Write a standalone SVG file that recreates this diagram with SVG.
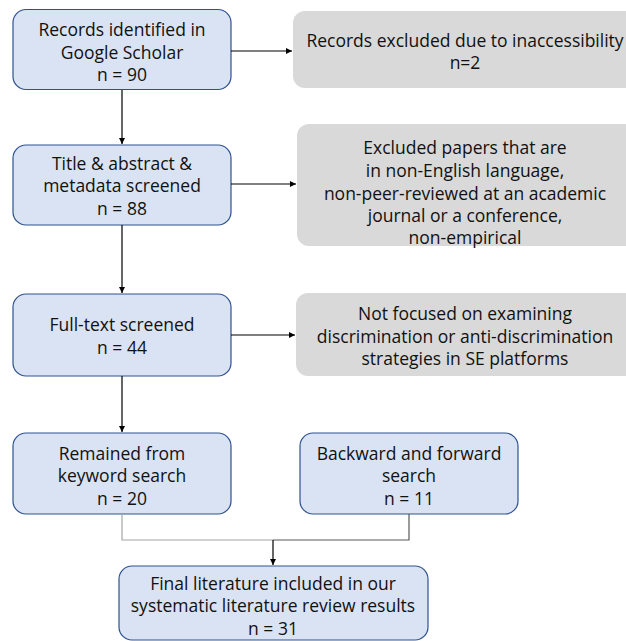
<svg xmlns="http://www.w3.org/2000/svg" width="626" height="641" viewBox="0 0 626 641">
<defs>
<style>
.b{fill:#dae3f3;stroke:#2f528f;stroke-width:1.2}
.g{fill:#d9d9d9;stroke:none}
text{font-family:"Open Sans","Noto Sans","DejaVu Sans",sans-serif;font-size:17.5px;fill:#111;text-anchor:middle;dominant-baseline:central}
.c{fill:none;stroke:#000;stroke-width:1.2}
</style>
<marker id="ah" viewBox="0 0 10 10" refX="10" refY="5" markerWidth="5" markerHeight="5" orient="auto">
<path d="M0,0 L10,5 L0,10 z" fill="#000"/>
</marker>
</defs>
<rect width="626" height="641" fill="#fff"/>
<g id="n1"><rect class="b" x="13" y="9.5" width="218" height="80" rx="13"/>
<text x="122" y="29">Records identified in</text><text x="122" y="52">Google Scholar</text><text x="122" y="74">n = 90</text></g>
<g id="n2"><rect class="g" x="293" y="11" width="345" height="77" rx="12"/>
<text x="465" y="40">Records excluded due to inaccessibility</text><text x="465" y="62">n=2</text></g>
<g id="n3"><rect class="b" x="13" y="145" width="218" height="80" rx="13"/>
<text x="122" y="163">Title &amp; abstract &amp;</text><text x="122" y="185">metadata screened</text><text x="122" y="208">n = 88</text></g>
<g id="n4"><rect class="g" x="297" y="124" width="341" height="122" rx="12"/>
<text x="465" y="147">Excluded papers that are</text><text x="465" y="170">in non-English language,</text><text x="465" y="193">non-peer-reviewed at an academic</text><text x="465" y="215">journal or a conference,</text><text x="465" y="237">non-empirical</text></g>
<g id="n5"><rect class="b" x="13" y="294" width="218" height="82" rx="13"/>
<text x="122" y="324">Full-text screened</text><text x="122" y="347">n = 44</text></g>
<g id="n6"><rect class="g" x="296" y="293" width="342" height="83" rx="12"/>
<text x="465" y="313">Not focused on examining</text><text x="465" y="335.5">discrimination or anti-discrimination</text><text x="465" y="358">strategies in SE platforms</text></g>
<g id="n7"><rect class="b" x="13" y="433" width="218" height="81" rx="13"/>
<text x="122" y="453">Remained from</text><text x="122" y="475">keyword search</text><text x="122" y="498">n = 20</text></g>
<g id="n8"><rect class="b" x="300" y="433" width="218" height="81" rx="13"/>
<text x="409" y="453">Backward and forward</text><text x="409" y="475">search</text><text x="409" y="498">n = 11</text></g>
<g id="n9"><rect class="b" x="119" y="566" width="309" height="74" rx="13"/>
<text x="273" y="583">Final literature included in our</text><text x="273" y="605">systematic literature review results</text><text x="273" y="628">n = 31</text></g>
<g id="connectors">
<line class="c" x1="231" y1="51" x2="292" y2="51" marker-end="url(#ah)"/>
<line class="c" x1="231" y1="184" x2="296" y2="184" marker-end="url(#ah)"/>
<line class="c" x1="231" y1="335" x2="295" y2="335" marker-end="url(#ah)"/>
<line class="c" x1="122" y1="90" x2="122" y2="144" marker-end="url(#ah)"/>
<line class="c" x1="122" y1="225" x2="122" y2="293" marker-end="url(#ah)"/>
<line class="c" x1="122" y1="376" x2="122" y2="432" marker-end="url(#ah)"/>
<polyline fill="none" stroke="#a6a6a6" stroke-width="1.2" points="122,514 122,540 273,540"/>
<polyline fill="none" stroke="#595959" stroke-width="1.2" points="409,514 409,540 273,540"/>
<line class="c" x1="273" y1="540" x2="273" y2="565" marker-end="url(#ah)"/>
</g>
</svg>
